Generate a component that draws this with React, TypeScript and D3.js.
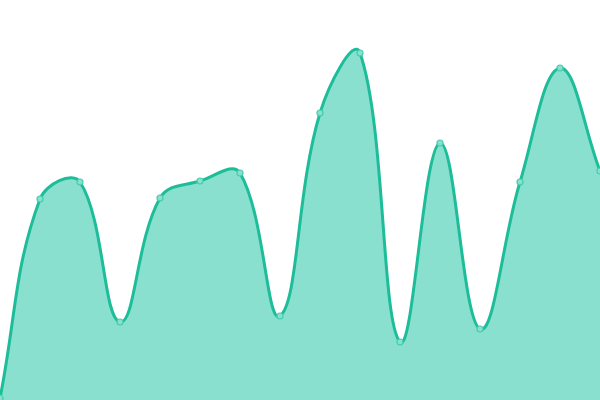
import React from 'react';
import * as d3 from 'd3';

const W = 600;
const H = 400;

const labels = d3.range(16).map(i => `P${i + 1}`);
const values = [2, 201, 218, 78, 202, 219, 227, 84, 287, 347, 58, 257, 71, 218, 332, 229];

const LINE = '#1dbd9a';
const FILL = '#8ae0ce';
const POINT_STROKE = '#45cdae';

type Pt = [number, number];

// spline with tension like Chart.js: control points weighted by neighbour distances
function splinePath(pts: Pt[], tension: number, closeTo?: number) {
  const p = d3.path();
  const ctrl = pts.map((cur, i) => {
    const prev = pts[i - 1] || cur;
    const next = pts[i + 1] || cur;
    const d01 = Math.hypot(cur[0] - prev[0], cur[1] - prev[1]);
    const d12 = Math.hypot(next[0] - cur[0], next[1] - cur[1]);
    const s = d01 + d12 || 1;
    const fa = (tension * d01) / s;
    const fb = (tension * d12) / s;
    const clampY = (v: number) => Math.max(0, Math.min(H, v));
    return {
      before: [cur[0] - fa * (next[0] - prev[0]), clampY(cur[1] - fa * (next[1] - prev[1]))] as Pt,
      after: [cur[0] + fb * (next[0] - prev[0]), clampY(cur[1] + fb * (next[1] - prev[1]))] as Pt,
    };
  });
  p.moveTo(pts[0][0], pts[0][1]);
  for (let i = 1; i < pts.length; i++) {
    const a = ctrl[i - 1].after;
    const b = ctrl[i].before;
    p.bezierCurveTo(a[0], a[1], b[0], b[1], pts[i][0], pts[i][1]);
  }
  if (closeTo !== undefined) {
    p.lineTo(pts[pts.length - 1][0], closeTo);
    p.lineTo(pts[0][0], closeTo);
    p.closePath();
  }
  return p.toString();
}

const App: React.FC = () => {
  const x = d3.scalePoint<string>().domain(labels).range([0, W]);
  const y = d3.scaleLinear().domain([0, 400]).range([H, 0]);

  const pts: Pt[] = values.map((v, i) => [x(labels[i]) as number, y(v)]);
  const linePath = splinePath(pts, 0.4);
  const areaPath = splinePath(pts, 0.4, y(0));

  return (
    <div style={{ position: 'fixed', left: 0, top: 0, width: W, height: H, background: '#fff' }}>
      <svg width={W} height={H} style={{ display: 'block' }}>
        <defs>
          <clipPath id="plot">
            <rect x={0} y={0} width={W} height={H} />
          </clipPath>
        </defs>
        <g clipPath="url(#plot)">
          <path d={areaPath} fill={FILL} stroke="none" />
          <path d={linePath} fill="none" stroke={LINE} strokeWidth={3} strokeLinejoin="round" />
          {pts.map((pt, i) => (
            <circle key={labels[i]} cx={pt[0]} cy={pt[1]} r={3} fill={FILL} stroke={POINT_STROKE} strokeWidth={1.2} />
          ))}
        </g>
      </svg>
    </div>
  );
};

export default App;
